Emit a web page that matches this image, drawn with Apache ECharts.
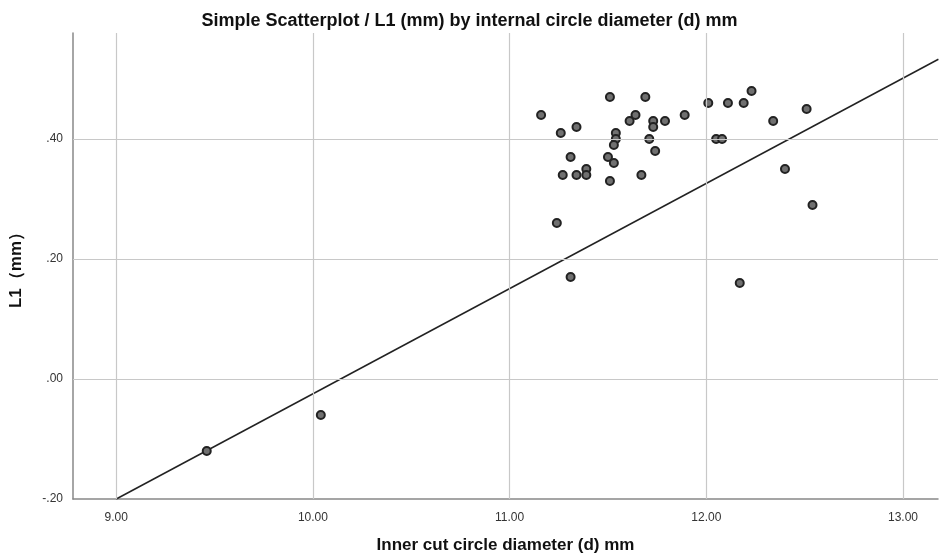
<!DOCTYPE html>
<html>
<head>
<meta charset="utf-8">
<script src="https://cdn.jsdelivr.net/npm/echarts@6/dist/echarts.min.js"></script>
<style>html,body{margin:0;padding:0;background:#fff}#c{width:939px;height:557px}</style>
</head>
<body>
<div id="c"></div>
<script>
// Data
const diameterD = [11.16, 11.51, 11.69, 11.26, 11.34, 11.89, 11.61, 11.64, 11.73, 11.73, 11.79, 11.54, 11.54, 11.53, 11.71, 11.74, 11.31, 11.50, 11.53, 11.27, 11.34, 11.39, 11.39, 11.51, 11.67, 12.01, 12.11, 12.19, 12.23, 12.34, 12.51, 12.05, 12.08, 12.40, 11.24, 12.54, 11.31, 12.17, 9.46, 10.04];
const l1mm      = [0.44, 0.47, 0.47, 0.41, 0.42, 0.44, 0.43, 0.44, 0.43, 0.42, 0.43, 0.41, 0.40, 0.39, 0.40, 0.38, 0.37, 0.37, 0.36, 0.34, 0.34, 0.35, 0.34, 0.33, 0.34, 0.46, 0.46, 0.46, 0.48, 0.43, 0.45, 0.40, 0.40, 0.35, 0.26, 0.29, 0.17, 0.16, -0.12, -0.06];
const fitLineX = [9.00, 13.18];
const fitLineY = [-0.20, 0.533];
const xTicks = [9, 10, 11, 12, 13];
const yTicks = [-0.2, 0, 0.2, 0.4];

const chart = echarts.init(document.getElementById('c'), null, {renderer: 'canvas'});
const F = '"Liberation Sans", Arial, sans-serif';
const yFmt = v => { const s = v.toFixed(2); return s.replace(/^(-?)0\./, '$1.'); };

chart.setOption({
  animation: false,
  backgroundColor: '#fff',
  title: {
    text: 'Simple Scatterplot / L1 (mm) by internal circle diameter (d) mm',
    left: 'center', top: 7,
    textStyle: {fontFamily: F, fontSize: 18, fontWeight: 'bold', color: '#111'}
  },
  grid: {left: 73, right: 1, top: 33, bottom: 58, containLabel: false, outerBoundsMode: 'none'},
  xAxis: {
    type: 'value', min: 8.78, max: 13.178,
    name: 'Inner cut circle diameter (d) mm', nameLocation: 'middle', nameGap: 38,
    nameTextStyle: {fontFamily: F, fontSize: 17, fontWeight: 'bold', color: '#111'},
    axisLine: {show: true, onZero: false, lineStyle: {color: '#888', width: 1.5}},
    axisTick: {show: false},
    axisLabel: {
      customValues: xTicks,
      formatter: v => v.toFixed(2), fontFamily: F, fontSize: 12, color: '#333', margin: 13
    },
    splitLine: {show: false}
  },
  yAxis: {
    type: 'value', min: -0.2, max: 0.5767,
    name: 'L1（mm）', nameLocation: 'middle', nameGap: 48, nameRotate: 90,
    nameTextStyle: {fontFamily: F, fontSize: 17, fontWeight: 'bold', color: '#111'},
    axisLine: {show: true, onZero: false, lineStyle: {color: '#888', width: 1.5}},
    axisTick: {show: false},
    axisLabel: {
      customValues: yTicks,
      formatter: yFmt, fontFamily: F, fontSize: 12, color: '#333', margin: 10
    },
    splitLine: {show: false}
  },
  series: [
    {
      type: 'line', data: [], silent: true,
      markLine: {
        silent: true, symbol: 'none', label: {show: false},
        lineStyle: {color: '#c8c8c8', width: 1.2, type: 'solid'},
        data: xTicks.map(v => ({xAxis: v})).concat(yTicks.filter(v => v > -0.2).map(v => ({yAxis: v})))
      }
    },
    {
      type: 'line', data: fitLineX.map((x, i) => [x, fitLineY[i]]),
      showSymbol: false, symbol: 'none',
      lineStyle: {color: '#222', width: 1.5}, z: 3
    },
    {
      type: 'scatter', data: diameterD.map((x, i) => [x, l1mm[i]]),
      symbol: 'circle', symbolSize: 8,
      itemStyle: {color: '#707070', borderColor: '#222', borderWidth: 2, opacity: 1},
      z: 4
    }
  ]
});
</script>
</body>
</html>
